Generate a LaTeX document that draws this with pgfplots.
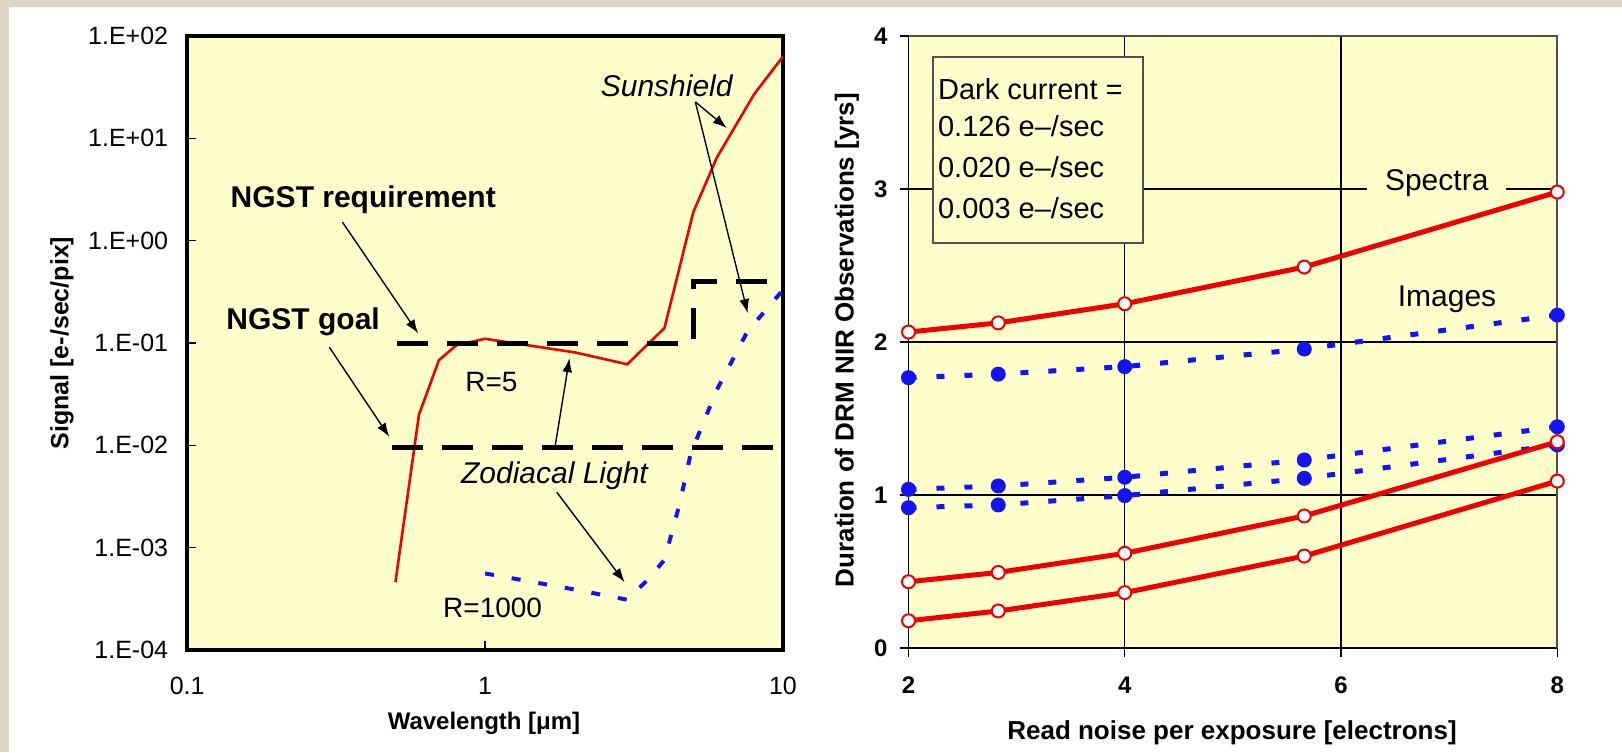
\documentclass[border=0pt]{standalone}
\usepackage{fontspec}
\setmainfont{Liberation Sans}
\usepackage{pgfplots}
\pgfplotsset{compat=1.18}
\usetikzlibrary{arrows.meta}
\definecolor{bg}{RGB}{222,213,194}
\definecolor{plotyel}{RGB}{255,255,204}
\definecolor{myred}{RGB}{240,0,0}
\definecolor{myblue}{RGB}{20,20,240}
\definecolor{boxgray}{RGB}{80,80,80}
\begin{document}
\begin{tikzpicture}[x=1pt,y=1pt]
\useasboundingbox (0,0) rectangle (811,376);
\fill[bg] (0,0) rectangle (811,376);
\fill[white] (4.5,0) rectangle (811,372.5);

% ---------------- left panel ----------------
\begin{axis}[
  at={(93.6pt,51pt)}, anchor=south west,
  scale only axis, width=297.9pt, height=307pt,
  xmode=log, ymode=log,
  xmin=0.1, xmax=10, ymin=1e-4, ymax=100,
  axis background/.style={fill=plotyel},
  axis line style={line width=2pt},
  xtick={0.1,1,10}, xticklabels={0.1,1,10},
  ytick={1e-4,1e-3,1e-2,1e-1,1,10,100},
  yticklabels={1.E-04,1.E-03,1.E-02,1.E-01,1.E+00,1.E+01,1.E+02},
  xminorticks=false, yminorticks=false,
  tick pos=left, tick align=inside, major tick length=4.5pt,
  tick style={black, line width=0.8pt},
  ticklabel style={font=\fontsize{12.5}{14}\selectfont},
  yticklabel style={xshift=-6pt},
  xticklabel style={yshift=-10pt},
  clip=false,
]
\addplot[myred, line width=1.3pt] coordinates {
  (0.5,4.6e-4) (0.6,0.02) (0.7,0.068) (0.8,0.095) (1.0,0.11) (2.0,0.081)
  (3.0,0.062) (4.0,0.14) (5.0,1.9) (6,6.5) (8,27) (10,63)};
\addplot[myblue, line width=2pt, dash pattern=on 4.5pt off 9pt] coordinates {
  (1,5.6e-4) (2,3.9e-4) (3,3.1e-4) (3.5,4.8e-4) (4,7.6e-4) (4.5,2.7e-3)
  (4.9,8.3e-3) (6,0.035) (7.6,0.13) (10,0.33)};
\addplot[black, line width=2.5pt, dash pattern=on 15.5pt off 9.5pt] coordinates {
  (0.507,0.1) (5,0.1) (5,0.4) (9.3,0.4)};
\addplot[black, line width=2.5pt, dash pattern=on 15.5pt off 9.5pt] coordinates {
  (0.487,0.0095) (9.3,0.0095)};

\node[font=\itshape\fontsize{15}{17}\selectfont] at (axis cs:4.07,33) {Sunshield};
\draw[-{Latex[length=7pt,width=5pt]}, line width=0.7pt] (axis cs:5.08,22.7) -- (axis cs:6.48,12.6);
\draw[-{Latex[length=7pt,width=5pt]}, line width=0.7pt] (axis cs:5.08,22.7) -- (axis cs:7.61,0.196);
\node[font=\bfseries\fontsize{15}{17}\selectfont] at (axis cs:0.39,2.5) {NGST requirement};
\draw[-{Latex[length=7pt,width=5pt]}, line width=0.7pt] (axis cs:0.332,1.52) -- (axis cs:0.596,0.124);
\node[font=\bfseries\fontsize{15}{17}\selectfont] at (axis cs:0.245,0.16) {NGST goal};
\draw[-{Latex[length=7pt,width=5pt]}, line width=0.7pt] (axis cs:0.3,0.091) -- (axis cs:0.477,0.0121);
\node[font=\fontsize{14}{16}\selectfont] at (axis cs:1.05,0.0417) {R=5};
\draw[-{Latex[length=7pt,width=5pt]}, line width=0.7pt] (axis cs:1.71,0.00898) -- (axis cs:1.92,0.0711);
\node[font=\itshape\fontsize{15}{17}\selectfont] at (axis cs:1.71,0.0051) {Zodiacal Light};
\draw[-{Latex[length=7pt,width=5pt]}, line width=0.7pt] (axis cs:1.74,0.00349) -- (axis cs:2.94,4.6e-4);
\node[font=\fontsize{14}{16}\selectfont] at (axis cs:1.06,2.6e-4) {R=1000};
\end{axis}

\node[font=\bfseries\fontsize{12}{14}\selectfont] at (242pt,14.5pt) {Wavelength [μm]};
\node[rotate=90, font=\bfseries\fontsize{12.5}{14}\selectfont] at (31pt,204.5pt) {Signal [e-/sec/pix]};

% ---------------- right panel ----------------
\begin{axis}[
  at={(454.25pt,52pt)}, anchor=south west,
  scale only axis, width=324.4pt, height=306pt,
  xmin=2, xmax=8, ymin=0, ymax=4,
  axis background/.style={fill=plotyel},
  axis x line*=bottom, axis y line*=left,
  axis line style={black, line width=0.6pt},
  xtick={2,4,6,8}, xticklabels={2,4,6,8},
  ytick={0,1,2,3,4}, yticklabels={0,1,2,3,4},
  tick align=outside, major tick length=4.5pt,
  tick style={black, line width=0.6pt},
  ticklabel style={font=\bfseries\fontsize{12}{14}\selectfont},
  xticklabel style={yshift=-6.5pt},
  yticklabel style={xshift=-2.5pt},
  clip=false,
]
\draw[black, line width=0.6pt] (axis cs:4,0) -- (axis cs:4,4);
\draw[black, line width=0.6pt] (axis cs:6,0) -- (axis cs:6,4);
\draw[black, line width=0.6pt] (axis cs:2,1) -- (axis cs:8,1);
\draw[black, line width=0.6pt] (axis cs:2,2) -- (axis cs:8,2);
\draw[black, line width=0.6pt] (axis cs:2,3) -- (axis cs:8,3);
\draw[boxgray, line width=1pt] (axis cs:2,4) -- (axis cs:8,4) -- (axis cs:8,0);

\addplot[myblue, line width=2.5pt, dash pattern=on 4pt off 10pt, mark=*, mark size=3.5pt,
  mark options={solid, fill=myblue, draw=myblue, line width=0.5pt}] coordinates {
  (2,1.767) (2.83,1.79) (4,1.839) (5.66,1.954) (8,2.176)};
\addplot[myblue, line width=2.5pt, dash pattern=on 4pt off 10pt, mark=*, mark size=3.5pt,
  mark options={solid, fill=myblue, draw=myblue, line width=0.5pt}] coordinates {
  (2,1.037) (2.83,1.059) (4,1.116) (5.66,1.229) (8,1.446)};
\addplot[myblue, line width=2.5pt, dash pattern=on 4pt off 10pt, mark=*, mark size=3.5pt,
  mark options={solid, fill=myblue, draw=myblue, line width=0.5pt}] coordinates {
  (2,0.917) (2.83,0.935) (4,0.996) (5.66,1.109) (8,1.327)};

\addplot[myred, line width=2.5pt, mark=*, mark size=3.25pt,
  mark options={solid, fill=white, draw=myred, line width=1pt}] coordinates {
  (2,2.065) (2.83,2.125) (4,2.25) (5.66,2.49) (8,2.98)};
\addplot[myred, line width=2.5pt, mark=*, mark size=3.25pt,
  mark options={solid, fill=white, draw=myred, line width=1pt}] coordinates {
  (2,0.433) (2.83,0.494) (4,0.619) (5.66,0.863) (8,1.348)};
\addplot[myred, line width=2.5pt, mark=*, mark size=3.25pt,
  mark options={solid, fill=white, draw=myred, line width=1pt}] coordinates {
  (2,0.178) (2.83,0.242) (4,0.362) (5.66,0.601) (8,1.091)};

\draw[fill=plotyel, draw=boxgray, line width=1pt] (axis cs:2.23,2.647) rectangle (axis cs:4.17,3.863);
\node[anchor=base west, inner sep=0pt, font=\fontsize{14.5}{16}\selectfont] at (axis cs:2.27,3.582) {Dark current =};
\node[anchor=base west, inner sep=0pt, font=\fontsize{14.5}{16}\selectfont] at (axis cs:2.27,3.34) {0.126 e–/sec};
\node[anchor=base west, inner sep=0pt, font=\fontsize{14.5}{16}\selectfont] at (axis cs:2.27,3.078) {0.020 e–/sec};
\node[anchor=base west, inner sep=0pt, font=\fontsize{14.5}{16}\selectfont] at (axis cs:2.27,2.81) {0.003 e–/sec};

\node[fill=plotyel, inner xsep=9pt, inner ysep=2pt, anchor=base, font=\fontsize{15}{17}\selectfont] at (axis cs:6.885,2.993) {Spectra};
\node[anchor=base, font=\fontsize{15}{17}\selectfont] at (axis cs:6.98,2.229) {Images};
\end{axis}

\node[font=\bfseries\fontsize{13}{15}\selectfont] at (616pt,9.5pt) {Read noise per exposure [electrons]};
\node[rotate=90, font=\bfseries\fontsize{13}{15}\selectfont] at (423.5pt,206pt) {Duration of DRM NIR Observations [yrs]};
\end{tikzpicture}
\end{document}
